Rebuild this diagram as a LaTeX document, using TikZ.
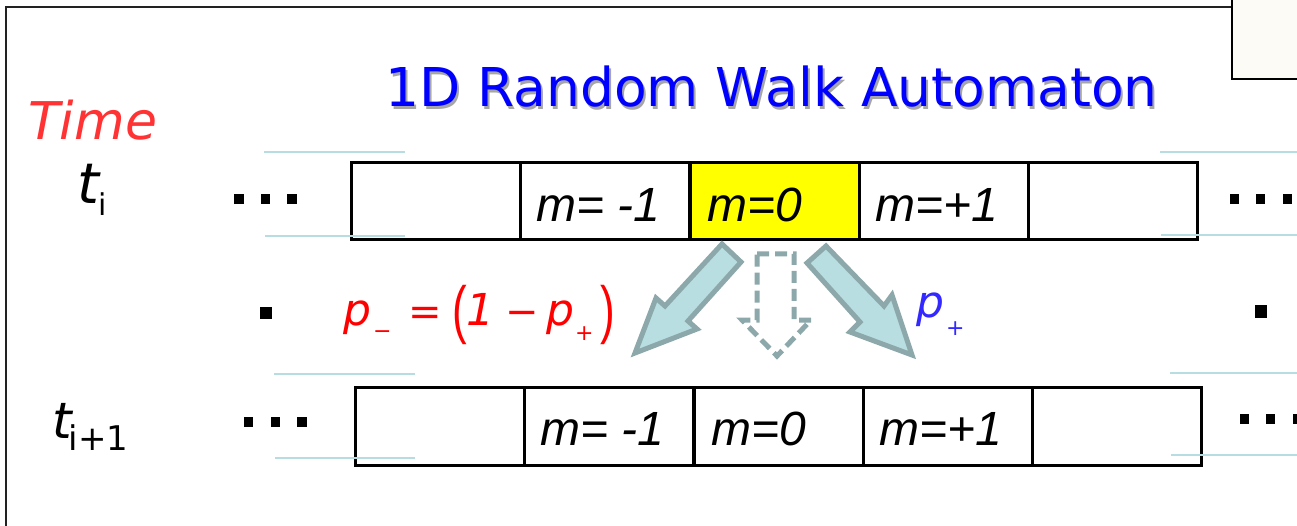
\documentclass[tikz,border=0pt]{standalone}
\usepackage{fontspec}
\setmainfont{DejaVu Sans}
\newfontfamily\cellfont{Liberation Sans}
\usetikzlibrary{calc}
\definecolor{titleblue}{RGB}{0,0,255}
\definecolor{timered}{RGB}{255,51,51}
\definecolor{pred}{RGB}{255,0,0}
\definecolor{pblue}{RGB}{51,40,255}
\definecolor{guide}{RGB}{183,221,226}
\definecolor{arrowfill}{RGB}{184,222,225}
\definecolor{arrowline}{RGB}{140,168,170}
\definecolor{boxfill}{RGB}{253,251,245}
\definecolor{cellyellow}{RGB}{255,255,0}
\definecolor{framegray}{RGB}{34,34,34}
\begin{document}
\begin{tikzpicture}[x=1pt,y=-1pt,
  cell/.style={draw=black, line width=3pt, minimum width=169pt, minimum height=77pt, inner sep=0pt},
  lbl/.style={font=\cellfont\itshape\fontsize{48}{48}\selectfont, inner sep=0pt, anchor=base west},
  guideline/.style={draw=guide, line width=2.2pt},
  sq/.style={fill=black, minimum size=9.5pt, inner sep=0pt},
  bigsq/.style={fill=black, minimum size=12pt, inner sep=0pt},
  fat/.style={fill=arrowfill, draw=arrowline, line width=5pt, line join=miter},
  dashedarrow/.style={fill=white, draw=arrowline, line width=5pt, dash pattern=on 12pt off 6pt},
  piece/.style={inner sep=0pt, anchor=base west},
  bigit/.style={font=\itshape\fontsize{44}{44}\selectfont},
  small/.style={font=\fontsize{22}{22}\selectfont}
]
\useasboundingbox (0,0) rectangle (1297,526);
\fill[white] (0,0) rectangle (1297,526);

% outer frame and top-right box
\draw[framegray, line width=2.6pt] (6,530) -- (6,7) -- (1232,7);
\draw[black, line width=2.6pt, fill=boxfill] (1232,-5) rectangle (1305,79);

% title with shadow
\node[font=\fontsize{53.5}{53.5}\selectfont, text=black!35, anchor=base, inner sep=0pt] (titleshadow) at (773.5,109.5) {1D Random Walk Automaton};
\node[font=\fontsize{53.5}{53.5}\selectfont, text=titleblue, anchor=base, inner sep=0pt] (title) at (771.5,107) {1D Random Walk Automaton};

% time labels
\node[anchor=base west, inner sep=0pt, font=\itshape\fontsize{52}{52}\selectfont, text=timered] (time) at (28,140) {Time};
\node[anchor=base west, inner sep=0pt] (ti) at (77,204) {{\itshape\fontsize{56}{56}\selectfont t}\kern-1pt\raisebox{-12pt}{\fontsize{30}{30}\selectfont i}};
\node[anchor=base west, inner sep=0pt] (tii) at (52,438) {{\itshape\fontsize{50}{50}\selectfont t}\kern-3pt\raisebox{-12pt}{\fontsize{34}{34}\selectfont i+1}};

% top row
\node[cell] (t1) at (435.5,201.5) {};
\node[cell] (t2) at (605,201.5) {};
\node[cell, fill=cellyellow] (t3) at (774.5,201.5) {};
\node[cell] (t4) at (943.5,201.5) {};
\node[cell] (t5) at (1112.5,201.5) {};
\node[lbl] (lt2) at ([xshift=17pt,yshift=-20.5pt]t2.west) {m= -1};
\node[lbl] (lt3) at ([xshift=19pt,yshift=-20.5pt]t3.west) {m=0};
\node[lbl] (lt4) at ([xshift=18pt,yshift=-20.5pt]t4.west) {m=+1};

% bottom row
\node[cell, minimum height=78pt] (b1) at (439.5,426) {};
\node[cell, minimum height=78pt] (b2) at (609,426) {};
\node[cell, minimum height=78pt] (b3) at (778.5,426) {};
\node[cell, minimum height=78pt] (b4) at (947.5,426) {};
\node[cell, minimum height=78pt] (b5) at (1116.5,426) {};
\node[lbl] (lb2) at ([xshift=17pt,yshift=-19pt]b2.west) {m= -1};
\node[lbl] (lb3) at ([xshift=19pt,yshift=-19pt]b3.west) {m=0};
\node[lbl] (lb4) at ([xshift=18pt,yshift=-19pt]b4.west) {m=+1};

% guide lines
\draw[guideline] (264,152) -- (405,152);
\draw[guideline] (265,236) -- (405,236);
\draw[guideline] (1160,152) -- (1297,152);
\draw[guideline] (1161,235) -- (1297,235);
\draw[guideline] (274,374) -- (415,374);
\draw[guideline] (275,458) -- (415,458);
\draw[guideline] (1170,373) -- (1297,373);
\draw[guideline] (1171,455) -- (1297,455);

% dots
\node[sq] (d1) at (239,199) {};
\node[sq] (d2) at (265.5,199) {};
\node[sq] (d3) at (292,199) {};
\node[sq] (d4) at (1234.5,199) {};
\node[sq] (d5) at (1260.5,199) {};
\node[sq] (d6) at (1287.5,199) {};
\node[sq] (d7) at (248.5,422) {};
\node[sq] (d8) at (275.5,422) {};
\node[sq] (d9) at (302,422) {};
\node[sq] (d10) at (1244.5,419) {};
\node[sq] (d11) at (1270.5,419) {};
\node[sq] (d12) at (1297.5,419) {};
\node[bigsq] (s1) at (266,313) {};
\node[bigsq] (s2) at (1261,311.5) {};

% block arrows
\draw[fat] (722,244) -- (741,262) -- (688,321) -- (697,329) -- (635,353) -- (656,298) -- (665,306) -- cycle;
\draw[fat] (826,246) -- (807,263) -- (860,322) -- (850,332) -- (912,355) -- (892,295) -- (884,306) -- cycle;
\draw[dashedarrow] (757,254) -- (794,254) -- (794,320) -- (811,320) -- (777,356) -- (742,320) -- (757,320) -- cycle;

% formula p_- = (1 - p_+)
\begin{scope}[text=pred]
\node[piece, bigit] (fp1) at (343,325) {p};
\node[piece, small] (fsub1) at (373,338) {−};
\node[piece, font=\fontsize{40}{40}\selectfont] (feq) at (408,325) {=};
\node[inner sep=0pt, font=\cellfont\fontsize{44}{44}\selectfont] (flp) at (460,315) {\scalebox{1}[1.45]{(}};
\node[piece, bigit] (fone) at (466,325) {1};
\node[piece, font=\fontsize{40}{40}\selectfont] (fminus) at (505,325) {−};
\node[piece, bigit] (fp2) at (546,325) {p};
\node[piece, small] (fsub2) at (575,340) {+};
\node[inner sep=0pt, font=\cellfont\fontsize{44}{44}\selectfont] (frp) at (608,315) {\scalebox{1}[1.45]{)}};
\end{scope}

% p_+
\node[piece, bigit, text=pblue] (pp) at (916,317) {p};
\node[piece, small, text=pblue] (ppsub) at (946,335) {+};
\end{tikzpicture}
\end{document}
